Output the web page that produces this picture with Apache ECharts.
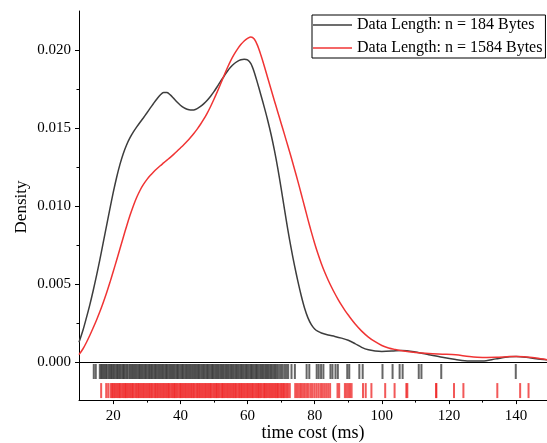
<!DOCTYPE html>
<html>
<head>
<meta charset="utf-8">
<script src="https://cdn.jsdelivr.net/npm/echarts@6/dist/echarts.min.js"></script>
<style>
  html, body { margin: 0; padding: 0; background: #fff; }
  #chart { width: 547px; height: 443px; }
</style>
</head>
<body>
<div id="chart"></div>
<script>
// density curve, n = 184 Bytes
var blackX = [9.8, 11, 12, 13, 14, 15, 16, 17, 18, 19, 20, 21, 22, 23, 24, 25, 26, 27, 28, 29, 30, 31, 32, 33, 34, 35, 36, 37, 38, 39, 40, 41, 42, 43, 44, 45, 46, 47, 48, 49, 50, 51, 52, 53, 54, 55, 56, 57, 58, 59, 60, 61, 62, 63, 64, 65, 66, 67, 68, 69, 70, 71, 72, 73, 74, 75, 76, 77, 78, 79, 80, 81, 82, 84, 86, 88, 90, 92, 94, 96, 98, 100, 103, 106, 110, 114, 118, 122, 126, 130, 134, 138, 140, 143, 146, 149.2];
var blackY = [0.00126, 0.00205, 0.00283, 0.00365, 0.00455, 0.00552, 0.00655, 0.00763, 0.00873, 0.00982, 0.01087, 0.01183, 0.01267, 0.01337, 0.01393, 0.01438, 0.01475, 0.01507, 0.01537, 0.01566, 0.01596, 0.01627, 0.01657, 0.01686, 0.01712, 0.01728, 0.01727, 0.01712, 0.0169, 0.01667, 0.01646, 0.0163, 0.0162, 0.01615, 0.01616, 0.01624, 0.01638, 0.01656, 0.01678, 0.01704, 0.01733, 0.01766, 0.018, 0.01832, 0.01864, 0.01891, 0.01912, 0.01927, 0.01937, 0.01941, 0.01936, 0.01912, 0.01858, 0.01786, 0.0171, 0.01632, 0.0155, 0.0146, 0.01358, 0.01243, 0.01115, 0.0098, 0.00848, 0.00728, 0.00618, 0.00517, 0.00425, 0.00345, 0.00283, 0.0024, 0.00212, 0.00196, 0.00186, 0.00173, 0.00164, 0.00153, 0.00139, 0.00118, 0.00094, 0.00078, 0.00071, 0.00068, 0.0007, 0.00074, 0.00064, 0.00047, 0.0003, 0.00016, 0.00006, 0.00006, 0.0002, 0.00033, 0.00036, 0.00031, 0.00021, 0.00015];

// density curve, n = 1584 Bytes
var redX = [9.8, 11, 12, 13, 14, 15, 16, 17, 18, 19, 20, 21, 22, 23, 24, 25, 26, 27, 28, 29, 30, 31, 32, 33, 34, 35, 36, 37, 38, 39, 40, 41, 42, 43, 44, 45, 46, 47, 48, 49, 50, 51, 52, 53, 54, 55, 56, 57, 58, 59, 60, 61, 62, 63, 64, 65, 66, 67, 68, 69, 70, 71, 72, 73, 74, 75, 76, 77, 78, 79, 80, 81, 82, 83, 84, 85, 86, 87, 88, 89, 90, 92, 94, 96, 98, 100, 102, 104, 106, 110, 114, 118, 122, 126, 130, 134, 138, 140, 143, 146, 149.2];
var redY = [0.00047, 0.00085, 0.00125, 0.0017, 0.00218, 0.00268, 0.00322, 0.0038, 0.00442, 0.00509, 0.0058, 0.00652, 0.00726, 0.008, 0.00872, 0.0094, 0.01002, 0.01056, 0.01101, 0.01138, 0.01169, 0.01195, 0.01218, 0.01239, 0.01258, 0.01276, 0.01294, 0.01312, 0.01331, 0.01351, 0.01372, 0.01393, 0.01415, 0.01439, 0.01465, 0.01493, 0.01524, 0.01558, 0.01596, 0.01638, 0.01684, 0.01733, 0.01784, 0.01836, 0.01886, 0.01932, 0.01972, 0.02006, 0.02035, 0.02058, 0.02074, 0.02084, 0.0207, 0.02028, 0.01966, 0.01896, 0.01822, 0.01748, 0.01675, 0.01603, 0.01531, 0.01459, 0.01386, 0.01312, 0.01236, 0.01158, 0.01077, 0.00995, 0.00913, 0.00834, 0.0076, 0.00692, 0.0063, 0.00575, 0.00526, 0.00481, 0.00439, 0.004, 0.00364, 0.00331, 0.00301, 0.00245, 0.00198, 0.0016, 0.0013, 0.00106, 0.0009, 0.0008, 0.00072, 0.00061, 0.00054, 0.0005, 0.00046, 0.00035, 0.00029, 0.0003, 0.00035, 0.00036, 0.00032, 0.00026, 0.00015];

// rug marks (observations)
var blackRug = [14.2, 14.8, 16.0, 16.4, 16.7, 17.1, 17.4, 17.8, 18.1, 18.6, 18.9, 19.3, 19.6, 20.0, 20.3, 20.7, 21.1, 21.4, 21.8, 22.1, 22.5, 22.9, 23.2, 23.6, 24.0, 24.3, 24.8, 25.1, 25.5, 25.8, 26.2, 26.6, 26.9, 27.3, 27.7, 28.0, 28.4, 28.7, 29.1, 29.5, 29.8, 30.2, 30.6, 30.9, 31.3, 31.6, 32.0, 32.4, 32.7, 33.1, 33.5, 33.8, 34.2, 34.6, 34.9, 35.3, 35.7, 36.0, 36.4, 36.8, 37.1, 37.5, 37.9, 38.2, 38.6, 39.0, 39.3, 39.7, 40.1, 40.5, 40.8, 41.2, 41.6, 41.9, 42.3, 42.7, 43.0, 43.4, 43.8, 44.2, 44.5, 44.9, 45.3, 45.6, 46.0, 46.4, 46.8, 47.1, 47.5, 47.9, 48.2, 48.6, 49.0, 49.4, 49.7, 50.1, 50.5, 50.8, 51.2, 51.6, 52.0, 52.3, 52.7, 53.1, 53.5, 53.8, 54.2, 54.6, 55.0, 55.3, 55.7, 56.1, 56.5, 56.8, 57.2, 57.6, 58.0, 58.3, 58.7, 59.1, 59.5, 59.8, 60.2, 60.6, 61.0, 61.3, 61.7, 62.1, 62.5, 62.8, 63.2, 63.6, 64.0, 64.4, 64.7, 65.1, 65.5, 65.9, 66.2, 66.6, 67.0, 67.4, 67.8, 68.2, 68.6, 69.0, 69.5, 70.0, 70.5, 71.1, 71.6, 72.1, 73.1, 74.1, 77.6, 78.4, 80.6, 81.2, 81.9, 82.6, 84.7, 85.3, 86.2, 86.9, 89.7, 90.3, 93.3, 94.3, 100.2, 103.2, 105.3, 106.2, 111.0, 111.8, 117.7, 139.9];
var redRug = [16.4, 17.9, 18.5, 19.2, 19.6, 19.9, 20.3, 20.6, 21.0, 21.3, 21.7, 22.0, 22.4, 22.8, 23.1, 23.5, 23.8, 24.2, 24.5, 24.9, 25.2, 25.6, 25.9, 26.3, 26.7, 27.0, 27.4, 27.7, 28.1, 28.4, 28.8, 29.1, 29.5, 29.9, 30.2, 30.6, 30.9, 31.3, 31.6, 32.0, 32.4, 32.7, 33.1, 33.4, 33.8, 34.1, 34.5, 34.9, 35.2, 35.6, 35.9, 36.3, 36.6, 37.0, 37.4, 37.7, 38.1, 38.4, 38.8, 39.1, 39.5, 39.9, 40.2, 40.6, 40.9, 41.3, 41.6, 42.0, 42.4, 42.7, 43.1, 43.4, 43.8, 44.1, 44.5, 44.9, 45.2, 45.6, 45.9, 46.3, 46.6, 47.0, 47.4, 47.7, 48.1, 48.4, 48.8, 49.1, 49.5, 49.9, 50.2, 50.6, 50.9, 51.3, 51.6, 52.0, 52.4, 52.7, 53.1, 53.4, 53.8, 54.1, 54.5, 54.9, 55.2, 55.6, 55.9, 56.3, 56.6, 57.0, 57.4, 57.7, 58.1, 58.4, 58.8, 59.1, 59.5, 59.9, 60.2, 60.6, 60.9, 61.3, 61.6, 62.0, 62.4, 62.7, 63.1, 63.4, 63.8, 64.1, 64.5, 64.9, 65.2, 65.6, 65.9, 66.3, 66.6, 67.0, 67.4, 67.7, 68.1, 68.4, 68.8, 69.1, 69.5, 69.9, 70.2, 70.6, 70.9, 71.3, 71.7, 72.1, 72.6, 74.2, 74.7, 75.2, 75.7, 76.1, 76.6, 77.1, 77.7, 78.2, 78.8, 79.3, 79.9, 80.5, 81.1, 81.7, 82.2, 82.8, 83.4, 84.0, 84.6, 86.8, 87.3, 89.0, 89.5, 90.0, 90.5, 91.0, 94.4, 95.2, 96.9, 101.0, 103.8, 107.3, 107.6, 116.2, 116.2, 121.5, 124.3, 134.4, 141.2, 143.7];

var xMajor = [20, 40, 60, 80, 100, 120, 140];
var xMinor = [30, 50, 70, 90, 110, 130];
var yMajor = [0, 0.005, 0.010, 0.015, 0.020];
var yMinor = [0.0025, 0.0075, 0.0125, 0.0175];

var nameBlack = 'Data Length: n = 184 Bytes';
var nameRed = 'Data Length: n = 1584 Bytes';

function zip(xs, ys) {
    return xs.map(function (x, i) { return [x, ys[i]]; });
}

var serif = 'Liberation Serif';
var xMin = 9.8, xMax = 149.2;
var yMax = 0.0225;

var chart = echarts.init(document.getElementById('chart'));
chart.setOption({
    backgroundColor: '#fff',
    animation: false,
    grid: [
        {left: 79, top: 11, right: 0, height: 351},
        {left: 79, top: 362, right: 0, height: 41}
    ],
    legend: {
        data: [nameBlack, nameRed],
        orient: 'vertical',
        left: 312,
        top: 15,
        icon: 'rect',
        itemWidth: 39,
        itemHeight: 1.5,
        itemGap: 7,
        padding: [2, 3, 2, 1],
        borderColor: '#000',
        borderWidth: 1,
        textStyle: {fontFamily: serif, fontSize: 16, color: '#000'}
    },
    graphic: [{
        type: 'text',
        x: 22,
        y: 207,
        rotation: Math.PI / 2,
        style: {text: 'Density', font: '17px "Liberation Serif"', fill: '#000', align: 'center', verticalAlign: 'middle'}
    }],
    xAxis: [
        {   // y = 0 line
            type: 'value', gridIndex: 0, position: 'bottom', min: xMin, max: xMax,
            axisLine: {show: true, lineStyle: {color: '#000', width: 1}},
            axisTick: {show: false}, axisLabel: {show: false}, splitLine: {show: false}
        },
        {   // top frame
            type: 'value', gridIndex: 0, position: 'top', min: xMin, max: xMax,
            axisLine: {show: true, lineStyle: {color: '#000', width: 1}},
            axisTick: {show: false}, axisLabel: {show: false}, splitLine: {show: false}
        },
        {
            type: 'value', gridIndex: 1, position: 'bottom', min: xMin, max: xMax,
            name: 'time cost (ms)', nameLocation: 'middle', nameGap: 22,
            nameTextStyle: {fontFamily: serif, fontSize: 18, color: '#000'},
            axisLine: {show: true, lineStyle: {color: '#000', width: 1}},
            axisTick: {show: true, length: 4, customValues: xMajor, lineStyle: {color: '#000'}},
            axisLabel: {customValues: xMajor, margin: 8, fontFamily: serif, fontSize: 15, color: '#000'},
            splitLine: {show: false}
        },
        {   // minor ticks
            type: 'value', gridIndex: 1, position: 'bottom', min: xMin, max: xMax,
            axisLine: {show: false},
            axisTick: {show: true, length: 2.5, customValues: xMinor, lineStyle: {color: '#000'}},
            axisLabel: {show: false}, splitLine: {show: false}
        }
    ],
    yAxis: [
        {
            type: 'value', gridIndex: 0, position: 'left', min: 0, max: yMax,
            axisLine: {show: true, lineStyle: {color: '#000', width: 1}},
            axisTick: {show: true, length: 4, customValues: yMajor, lineStyle: {color: '#000'}},
            axisLabel: {
                customValues: yMajor, margin: 8, fontFamily: serif, fontSize: 15, color: '#000',
                formatter: function (v) { return v.toFixed(3); }
            },
            splitLine: {show: false}
        },
        {   // minor ticks
            type: 'value', gridIndex: 0, position: 'left', min: 0, max: yMax,
            axisLine: {show: false},
            axisTick: {show: true, length: 2.5, customValues: yMinor, lineStyle: {color: '#000'}},
            axisLabel: {show: false}, splitLine: {show: false}
        },
        {
            type: 'category', gridIndex: 1, position: 'left', data: ['1584', '184'],
            axisLine: {show: true, lineStyle: {color: '#000', width: 1}},
            axisTick: {show: false}, axisLabel: {show: false}, splitLine: {show: false}
        }
    ],
    series: [
        {
            name: nameBlack, type: 'line', xAxisIndex: 0, yAxisIndex: 0,
            data: zip(blackX, blackY), smooth: 0.3, symbol: 'none',
            lineStyle: {color: '#3d3d3d', width: 1.5}, itemStyle: {color: '#3d3d3d'}
        },
        {
            name: nameRed, type: 'line', xAxisIndex: 0, yAxisIndex: 0,
            data: zip(redX, redY), smooth: 0.3, symbol: 'none',
            lineStyle: {color: '#f03434', width: 1.5}, itemStyle: {color: '#f03434'}
        },
        {
            name: 'rug184', type: 'scatter', xAxisIndex: 2, yAxisIndex: 2,
            data: blackRug.map(function (v) { return [v, '184']; }),
            symbol: 'rect', symbolSize: [2, 15], silent: true,
            itemStyle: {color: '#333', opacity: 0.75}
        },
        {
            name: 'rug1584', type: 'scatter', xAxisIndex: 2, yAxisIndex: 2,
            data: redRug.map(function (v) { return [v, '1584']; }),
            symbol: 'rect', symbolSize: [2, 15], silent: true,
            itemStyle: {color: '#ee2222', opacity: 0.75}
        }
    ]
});
</script>
</body>
</html>
